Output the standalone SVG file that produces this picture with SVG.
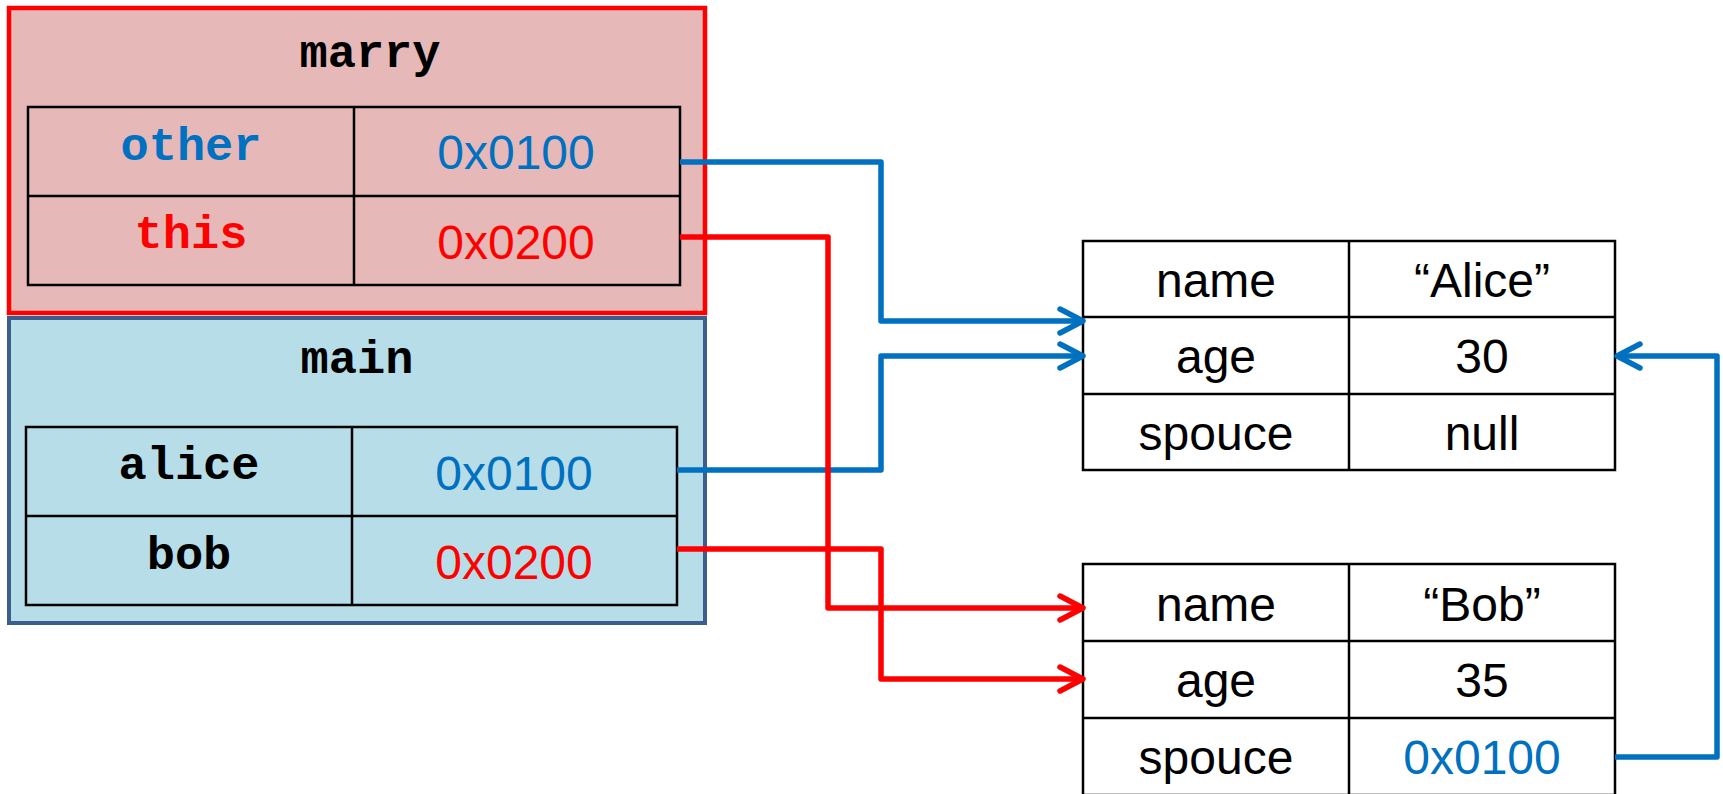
<svg xmlns="http://www.w3.org/2000/svg" width="1723" height="794" viewBox="0 0 1723 794">
  <style>
    .frame-red { fill: #E6B9B8; stroke: #FF0000; stroke-width: 4.5; }
    .frame-blue { fill: #B7DDE8; stroke: #3B5E8C; stroke-width: 4; }
    .grid { fill: none; stroke: #000000; stroke-width: 2.5; }
    .obj { fill: #FFFFFF; stroke: #000000; stroke-width: 2.5; }
    .mono { font-family: "Liberation Mono", "Courier New", monospace; font-weight: bold; font-size: 47px; text-anchor: middle; }
    .sans { font-family: "Liberation Sans", Arial, sans-serif; font-size: 48px; text-anchor: middle; }
    .k { fill: #000000; }
    .b { fill: #0070C0; }
    .r { fill: #FF0000; }
    .link { fill: none; stroke-width: 5.5; stroke-linejoin: round; }
    .link-b { stroke: #0070C0; }
    .link-r { stroke: #FF0000; }
  </style>
  <defs>
    <marker id="head-b" markerUnits="userSpaceOnUse" viewBox="-30 -16 36 32" refX="-3" refY="0" markerWidth="36" markerHeight="32" orient="auto">
      <path d="M -23 -12 L 0 0 L -23 12" fill="none" stroke="#0070C0" stroke-width="5.5" stroke-linecap="round" stroke-linejoin="round"/>
    </marker>
    <marker id="head-r" markerUnits="userSpaceOnUse" viewBox="-30 -16 36 32" refX="-3" refY="0" markerWidth="36" markerHeight="32" orient="auto">
      <path d="M -23 -12 L 0 0 L -23 12" fill="none" stroke="#FF0000" stroke-width="5.5" stroke-linecap="round" stroke-linejoin="round"/>
    </marker>
  </defs>

  <rect width="1723" height="794" fill="#FFFFFF"/>

  <!-- stack frame: marry -->
  <g id="frame-marry">
    <rect class="frame-red" x="9" y="8" width="696" height="305"/>
    <text class="mono k" x="370" y="67">marry</text>
    <rect class="grid" x="28" y="107" width="652" height="178"/>
    <line class="grid" x1="354" y1="107" x2="354" y2="285"/>
    <line class="grid" x1="28" y1="196" x2="680" y2="196"/>
    <text class="mono b" x="191" y="160">other</text>
    <text class="sans b" x="516" y="169">0x0100</text>
    <text class="mono r" x="191" y="248">this</text>
    <text class="sans r" x="516" y="259">0x0200</text>
  </g>

  <!-- stack frame: main -->
  <g id="frame-main">
    <rect class="frame-blue" x="9" y="318" width="696" height="305"/>
    <text class="mono k" x="357" y="373">main</text>
    <rect class="grid" x="26" y="427" width="651" height="178"/>
    <line class="grid" x1="352" y1="427" x2="352" y2="605"/>
    <line class="grid" x1="26" y1="516" x2="677" y2="516"/>
    <text class="mono k" x="189" y="479">alice</text>
    <text class="sans b" x="514" y="490">0x0100</text>
    <text class="mono k" x="189" y="569">bob</text>
    <text class="sans r" x="514" y="579">0x0200</text>
  </g>

  <!-- heap object at 0x0100 -->
  <g id="object-alice">
    <rect class="obj" x="1083" y="241" width="532" height="229"/>
    <line class="grid" x1="1349" y1="241" x2="1349" y2="470"/>
    <line class="grid" x1="1083" y1="317" x2="1615" y2="317"/>
    <line class="grid" x1="1083" y1="394" x2="1615" y2="394"/>
    <text class="sans k" x="1216" y="297">name</text>
    <text class="sans k" x="1482" y="297">“Alice”</text>
    <text class="sans k" x="1216" y="373">age</text>
    <text class="sans k" x="1482" y="373">30</text>
    <text class="sans k" x="1216" y="450">spouce</text>
    <text class="sans k" x="1482" y="450">null</text>
  </g>

  <!-- heap object at 0x0200 -->
  <g id="object-bob">
    <rect class="obj" x="1083" y="564" width="532" height="231"/>
    <line class="grid" x1="1349" y1="564" x2="1349" y2="795"/>
    <line class="grid" x1="1083" y1="641" x2="1615" y2="641"/>
    <line class="grid" x1="1083" y1="718" x2="1615" y2="718"/>
    <text class="sans k" x="1216" y="621">name</text>
    <text class="sans k" x="1482" y="621">“Bob”</text>
    <text class="sans k" x="1216" y="697">age</text>
    <text class="sans k" x="1482" y="697">35</text>
    <text class="sans k" x="1216" y="774">spouce</text>
    <text class="sans b" x="1482" y="774">0x0100</text>
  </g>

  <!-- references -->
  <g id="connectors">
    <path class="link link-b" d="M 680 162 H 881 V 321 H 1080" marker-end="url(#head-b)"/>
    <path class="link link-b" d="M 677 470 H 881 V 356 H 1080" marker-end="url(#head-b)"/>
    <path class="link link-b" d="M 1615 757 H 1717 V 356 H 1620" marker-end="url(#head-b)"/>
    <path class="link link-r" d="M 680 237 H 828 V 608 H 1080" marker-end="url(#head-r)"/>
    <path class="link link-r" d="M 677 549 H 881 V 679 H 1080" marker-end="url(#head-r)"/>
  </g>
</svg>
